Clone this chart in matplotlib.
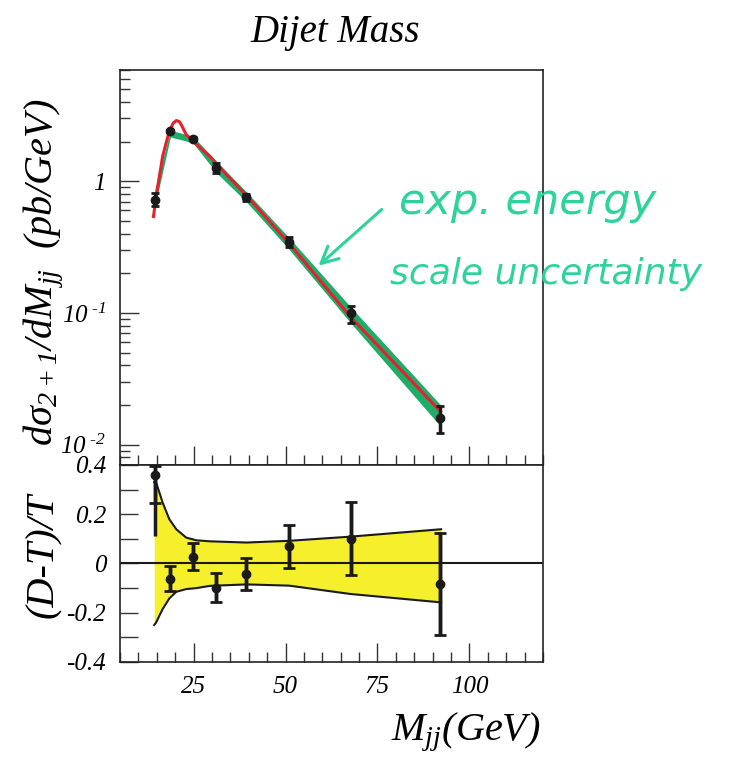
import matplotlib
matplotlib.use("Agg")
import matplotlib.pyplot as plt
from matplotlib.ticker import FixedLocator, FixedFormatter, MultipleLocator, NullFormatter, LogLocator

plt.rcParams["font.family"] = "Liberation Serif"
plt.rcParams["font.style"] = "italic"
plt.rcParams["mathtext.fontset"] = "custom"
plt.rcParams["mathtext.rm"] = "Liberation Serif:italic"
plt.rcParams["mathtext.it"] = "Liberation Serif:italic"

# measured dijet cross section (pb/GeV)
mjj = [14.5, 18.7, 24.8, 31.2, 39.2, 51.0, 67.7, 92.1]
xsec = [0.726, 2.40, 2.11, 1.26, 0.757, 0.344, 0.099, 0.0158]
xsec_err_lo = [0.08, 0.05, 0.05, 0.10, 0.05, 0.03, 0.015, 0.0035]
xsec_err_hi = [0.09, 0.05, 0.05, 0.11, 0.05, 0.03, 0.013, 0.0039]

# energy scale uncertainty band around the data
scale_lo = [0.646, 2.17, 1.96, 1.16, 0.705, 0.303, 0.084, 0.0138]
scale_hi = [0.865, 2.44, 2.20, 1.42, 0.840, 0.372, 0.111, 0.0201]

# NLO theory curve
theo_m = [14.1, 15.0, 16.6, 18.4, 19.5, 20.3, 21.2, 22.1, 23.0, 24.8,
          29.4, 31.2, 34.0, 39.2, 51.0, 67.7, 92.1]
theo = [0.54, 0.82, 1.55, 2.40, 2.77, 2.89, 2.83, 2.54, 2.26, 2.01,
        1.55, 1.36, 1.12, 0.79, 0.336, 0.093, 0.0179]

# (D-T)/T
ratio = [0.359, -0.064, 0.028, -0.101, -0.043, 0.069, 0.101, -0.084]
ratio_tot_lo = [0.248, 0.047, 0.054, 0.055, 0.064, 0.089, 0.147, 0.205]
ratio_tot_hi = [0.037, 0.054, 0.054, 0.062, 0.067, 0.087, 0.149, 0.206]
ratio_stat_lo = [0.112, 0.047, 0.054, 0.055, 0.064, 0.089, 0.147, 0.205]
ratio_stat_hi = [0.037, 0.054, 0.054, 0.062, 0.067, 0.087, 0.149, 0.206]

# theory uncertainty band for the ratio
band_m = [14.3, 14.8, 16.6, 18.4, 20.3, 23.0, 25.8, 29.4, 39.4, 51.0, 67.7, 92.3]
band_up = [0.33, 0.33, 0.247, 0.18, 0.139, 0.105, 0.094, 0.090, 0.085, 0.092, 0.109, 0.139]
band_dn = [-0.25, -0.24, -0.185, -0.142, -0.115, -0.104, -0.100, -0.091, -0.085, -0.090, -0.124, -0.158]

fig = plt.figure(figsize=(7.33, 7.63), dpi=100)
ax1 = fig.add_axes([0.1637, 0.3906, 0.5771, 0.5177])
ax2 = fig.add_axes([0.1637, 0.1324, 0.5771, 0.2582])

# upper panel
ax1.fill_between(mjj, scale_lo, scale_hi, color="#1fab68", lw=0, zorder=1)
ax1.plot(theo_m, theo, color="#e6202f", lw=2.2, zorder=2)
ax1.errorbar(mjj, xsec, yerr=[xsec_err_lo, xsec_err_hi], fmt="o", color="#1a1a1a",
             ms=6, elinewidth=2.5, capsize=3, capthick=2, zorder=3)
ax1.set_yscale("log")
ax1.set_xlim(5, 120)
ax1.set_ylim(0.007, 7)
ax1.yaxis.set_major_locator(FixedLocator([0.01, 0.1, 1]))
ax1.yaxis.set_major_formatter(FixedFormatter([r"$10^{\text{ -2}}$", r"$10^{\text{ -1}}$", "1"]))
ax1.yaxis.set_minor_locator(LogLocator(subs=range(2, 10)))
ax1.yaxis.set_minor_formatter(NullFormatter())
ax1.xaxis.set_major_locator(MultipleLocator(25))
ax1.xaxis.set_minor_locator(MultipleLocator(5))
ax1.xaxis.set_major_formatter(NullFormatter())

# lower panel
ax2.fill_between(band_m, band_dn, band_up, color="#f6ef2c", lw=0, zorder=1)
ax2.plot(band_m, band_up, color="#1a1a1a", lw=1.5, zorder=2)
ax2.plot(band_m, band_dn, color="#1a1a1a", lw=1.5, zorder=2)
ax2.axhline(0, color="#1a1a1a", lw=1.5, zorder=2)
ax2.errorbar(mjj, ratio, yerr=[ratio_tot_lo, ratio_tot_hi], fmt="none", ecolor="#1a1a1a",
             elinewidth=2.5, capsize=0, zorder=3, clip_on=False)
ax2.errorbar(mjj, ratio, yerr=[ratio_stat_lo, ratio_stat_hi], fmt="o", color="#1a1a1a",
             ms=6, elinewidth=2.5, capsize=4, capthick=2, zorder=4, clip_on=False)
ax2.set_xlim(5, 120)
ax2.set_ylim(-0.4, 0.4)
ax2.yaxis.set_major_locator(FixedLocator([-0.4, -0.2, 0, 0.2, 0.4]))
ax2.yaxis.set_major_formatter(FixedFormatter(["-0.4", "-0.2", "0", "0.2", "0.4"]))
ax2.yaxis.set_minor_locator(MultipleLocator(0.1))
ax2.xaxis.set_major_locator(MultipleLocator(25))
ax2.xaxis.set_minor_locator(MultipleLocator(5))

for ax in (ax1, ax2):
    for sp in ax.spines.values():
        sp.set_linewidth(1.2)
        sp.set_color("#222222")
    ax.tick_params(which="both", direction="in", top=False, right=False,
                   color="#333333", width=1.0, labelsize=18, pad=10)
    ax.tick_params(which="major", length=14)
    ax.tick_params(which="minor", length=7)
ax2.tick_params(axis="y", which="both", length=13)

fig.text(0.457, 0.958, "Dijet Mass", ha="center", va="center", fontsize=28)
fig.text(0.060, 0.643, r"$d\sigma_{2+1}/dM_{jj}\ \ (pb/GeV)$", rotation=90,
         ha="center", va="center", fontsize=29)
fig.text(0.060, 0.272, "(D-T)/T", rotation=90, ha="center", va="center", fontsize=29)
fig.text(0.738, 0.040, r"$M_{jj}(GeV)$", ha="right", va="center", fontsize=29)

# hand-written note on the energy scale band
hand = "#2dd39b"
ax1.annotate("", xy=(58.4, 0.221), xytext=(76.7, 0.63),
             arrowprops=dict(arrowstyle="->", color=hand, lw=2.2, mutation_scale=30))
fig.text(0.545, 0.720, "exp. energy", color=hand, fontsize=31, family="DejaVu Sans",
         style="italic", ha="left", va="baseline")
fig.text(0.532, 0.628, "scale uncertainty", color=hand, fontsize=26, family="DejaVu Sans",
         style="italic", ha="left", va="baseline")

fig.savefig("out.png", dpi=100)
